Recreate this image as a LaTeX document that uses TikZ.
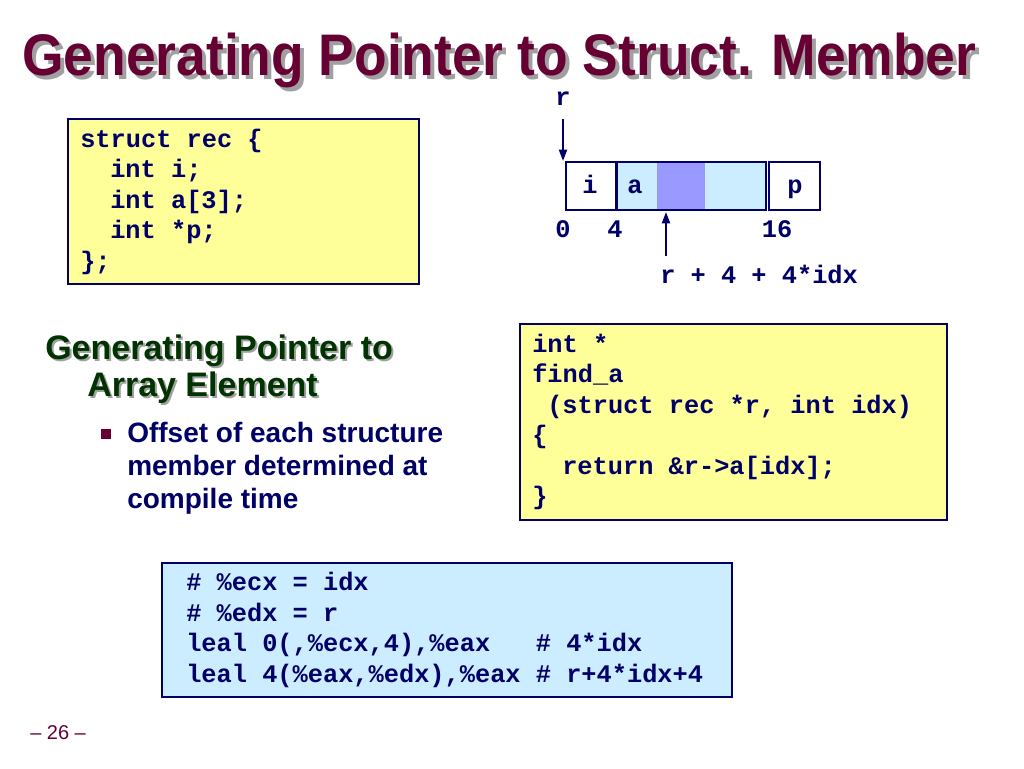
\documentclass[tikz,border=0pt]{standalone}
\usepackage{fontspec}
\usepackage{graphicx}
\setmainfont{Liberation Sans}
\newfontfamily\codefont{Liberation Mono}
\usetikzlibrary{arrows.meta}
\definecolor{navy}{RGB}{0,0,102}
\definecolor{maroon}{RGB}{102,0,51}
\definecolor{hgreen}{RGB}{0,51,0}
\definecolor{shadowgray}{RGB}{160,160,160}
\definecolor{yellowfill}{RGB}{255,255,153}
\definecolor{bluefill}{RGB}{204,236,255}
\definecolor{purplefill}{RGB}{153,153,255}
\newcommand\ms{\hphantom{0}}
\newcommand\titlestr{\scalebox{0.91}[1]{Generating Pointer to Struct. Member}}
\begin{document}
\begin{tikzpicture}[x=0.75pt,y=-0.75pt,
  code/.style={anchor=base west,inner sep=0pt,text=navy,font=\codefont\bfseries\fontsize{19}{23}\selectfont},
  codec/.style={code,anchor=base},
  codebox/.style={draw=navy,line width=1.1pt},
  cell/.style={draw=navy,line width=1.5pt},
  arr/.style={draw=navy,line width=1.5pt,-{Triangle[length=8.5pt,width=6pt]}},
  titletext/.style={anchor=base west,inner sep=0pt,font=\bfseries\fontsize{44}{50}\selectfont},
  headtext/.style={anchor=base west,inner sep=0pt,font=\bfseries\fontsize{25.5}{30}\selectfont},
  bullettext/.style={anchor=base west,inner sep=0pt,text=navy,font=\bfseries\fontsize{21}{26}\selectfont}]
\useasboundingbox (0,0) rectangle (1024,768);
\fill[white] (0,0) rectangle (1024,768);

% title
\node[titletext,text=shadowgray] (tsh) at (26,79) {\titlestr};
\node[titletext,text=maroon] (title) at (22,75) {\titlestr};

% struct box
\draw[codebox,fill=yellowfill] (68,119) rectangle (419,284);
\node[code] (s1) at (80,147) {struct rec \{};
\node[code] (s2) at (110,177.5) {int i;};
\node[code] (s3) at (110,208) {int a[3];};
\node[code] (s4) at (110,238.5) {int *p;};
\node[code] (s5) at (80,269) {\};};

% memory layout
\fill[bluefill] (617,162) rectangle (766,210);
\fill[purplefill] (657,162) rectangle (705,210);
\draw[cell] (566,162) rectangle (616,210);
\draw[cell] (617,162) rectangle (766,210);
\draw[cell] (769,162) rectangle (820,210);
\node[codec] (ci) at (590,193) {i};
\node[codec] (ca) at (635,193) {a};
\node[codec] (cp) at (795,193) {p};
\node[codec] (rl) at (563,105) {r};
\coordinate (rtail) at (563,119);
\coordinate (rtip) at (563,161);
\draw[arr] (rtail) -- (rtip);
\node[codec] (o0) at (563,237) {0};
\node[codec] (o4) at (615,237) {4};
\node[codec] (o16) at (777,237) {16};
\coordinate (itail) at (666,256);
\coordinate (itip) at (666,212);
\draw[arr] (itail) -- (itip);
\node[code] (addr) at (660,283) {r + 4 + 4*idx};

% heading
\node[headtext,text=shadowgray] (h1s) at (47,361) {Generating Pointer to};
\node[headtext,text=hgreen] (h1) at (45,359) {Generating Pointer to};
\node[headtext,text=shadowgray] (h2s) at (89,398) {Array Element};
\node[headtext,text=hgreen] (h2) at (87,396) {Array Element};

% bullet
\fill[maroon] (101,429) rectangle (111,439);
\node[bullettext] (b1) at (127,442) {Offset of each structure};
\node[bullettext] (b2) at (127,475) {member determined at};
\node[bullettext] (b3) at (127,508) {compile time};

% find_a box
\draw[codebox,fill=yellowfill] (520,324) rectangle (947,520);
\node[code] (f1) at (532,352) {int *};
\node[code] (f2) at (532,382.5) {find\_a};
\node[code] (f3) at (547,413) {(struct rec *r, int idx)};
\node[code] (f4) at (532,443.5) {\{};
\node[code] (f5) at (562,474) {return \&r->a[idx];};
\node[code] (f6) at (532,504.5) {\}};

% asm box
\draw[codebox,fill=bluefill] (162,563) rectangle (732,697);
\node[code] (a1) at (186,590.5) {\# \%ecx = idx};
\node[code] (a2) at (186,621) {\# \%edx = r};
\node[code] (a3) at (186,651.5) {leal 0(,\%ecx,4),\%eax\ms\ms\ms\# 4*idx};
\node[code] (a4) at (186,682) {leal 4(\%eax,\%edx),\%eax \# r+4*idx+4};

% footer
\node[anchor=base west,inner sep=0pt,text=maroon,font=\fontsize{15}{18}\selectfont] (foot) at (30,739) {– 26 –};
\end{tikzpicture}
\end{document}
